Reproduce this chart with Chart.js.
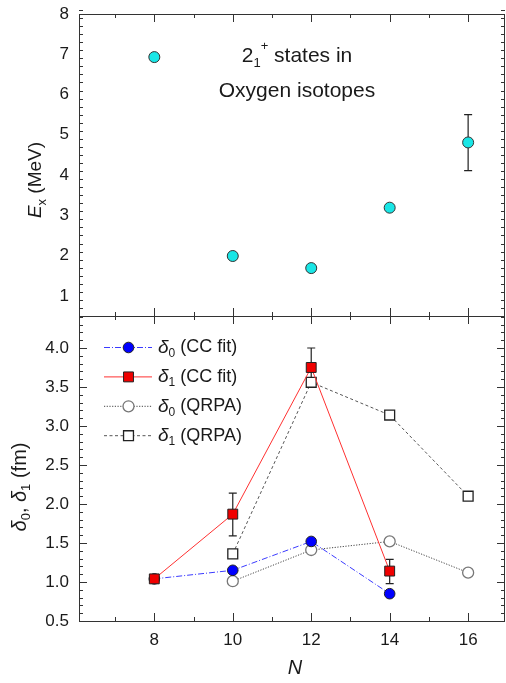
<!DOCTYPE html>
<html>
<head>
<meta charset="utf-8">
<script src="https://cdn.jsdelivr.net/npm/chart.js@4/dist/chart.umd.min.js"></script>
<style>
  html, body { margin: 0; padding: 0; background: #fff; }
  #wrap { position: relative; width: 506px; height: 683px; }
  canvas { position: absolute; left: 0; top: 0; }
</style>
</head>
<body>
<div id="wrap">
  <canvas id="bot" width="506" height="683"></canvas>
  <canvas id="top" width="506" height="683"></canvas>
</div>
<script>
// top panel: 2+ energies
const nTop = [8, 10, 12, 14, 16];
const exVals = [6.93, 1.99, 1.69, 3.19, 4.81];
const exErrLo = [null, null, null, null, 4.11];
const exErrHi = [null, null, null, null, 5.5];
const topYTicks = [1, 2, 3, 4, 5, 6, 7, 8];

// bottom panel: deformation lengths
const nCC = [8, 10, 12, 14];
const d0cc = [1.04, 1.15, 1.52, 0.85];
const d0ccLo = [null, null, 1.49, 0.82];
const d0ccHi = [null, null, 1.55, 0.88];
const d1cc = [1.04, 1.87, 3.75, 1.14];
const d1ccLo = [null, 1.59, 3.5, 0.98];
const d1ccHi = [null, 2.14, 4.0, 1.29];
const nQ = [10, 12, 14, 16];
const d0q = [1.01, 1.41, 1.52, 1.12];
const d1q = [1.36, 3.56, 3.14, 2.10];
const botYTicks = [0.5, 1.0, 1.5, 2.0, 2.5, 3.0, 3.5, 4.0];
const nTicks = [8, 10, 12, 14, 16];

const FONT = "'Liberation Sans', Arial, sans-serif";
const TXT = '#1a1a1a';

const pts = (xs, ys) => xs.map((x, i) => ({ x: x, y: ys[i] }));

function rich(ctx, parts, x, y, align) {
  let w = 0;
  parts.forEach(p => { ctx.font = (p.it ? 'italic ' : '') + p.size + 'px ' + FONT; p.w = ctx.measureText(p.t).width; w += p.w + (p.gap || 0); });
  let cx = align === 'center' ? x - w / 2 : x;
  parts.forEach(p => {
    ctx.font = (p.it ? 'italic ' : '') + p.size + 'px ' + FONT;
    ctx.fillText(p.t, cx, y + (p.dy || 0));
    cx += p.w + (p.gap || 0);
  });
}

const framePlugin = {
  id: 'frame',
  afterDatasetsDraw(chart, args, opts) {
    const { ctx, chartArea: a, scales } = chart;
    const xs = scales.x, ys = scales.y;
    ctx.save();
    ctx.strokeStyle = '#333';
    ctx.lineWidth = 1;
    ctx.strokeRect(Math.round(a.left) + 0.5, Math.round(a.top) + 0.5, Math.round(a.right - a.left) - 1, Math.round(a.bottom - a.top));
    ctx.beginPath();
    for (let n = Math.ceil(xs.min); n <= Math.floor(xs.max); n++) {
      const px = Math.round(xs.getPixelForValue(n)) + 0.5;
      const len = n % 2 === 0 ? 8 : 4;
      ctx.moveTo(px, a.top); ctx.lineTo(px, a.top + len);
      ctx.moveTo(px, a.bottom); ctx.lineTo(px, a.bottom - len);
    }
    const steps = Math.round((ys.max - ys.min) / opts.minor);
    for (let i = 0; i <= steps; i++) {
      const v = ys.min + i * opts.minor;
      const r = v / opts.major;
      const major = Math.abs(r - Math.round(r)) < 1e-6;
      const py = Math.round(ys.getPixelForValue(v)) + 0.5;
      const len = major ? 8 : 4;
      ctx.moveTo(a.left, py); ctx.lineTo(a.left + len, py);
      ctx.moveTo(a.right, py); ctx.lineTo(a.right - len, py);
    }
    ctx.stroke();
    ctx.restore();
  }
};

const errPlugin = {
  id: 'errbars',
  beforeDatasetsDraw(chart, args, opts) {
    const { ctx, scales } = chart;
    ctx.save();
    ctx.strokeStyle = '#222';
    ctx.lineWidth = 1.2;
    opts.sets.forEach(s => {
      s.x.forEach((n, i) => {
        if (s.lo[i] == null) return;
        const px = scales.x.getPixelForValue(n);
        const p1 = scales.y.getPixelForValue(s.lo[i]);
        const p2 = scales.y.getPixelForValue(s.hi[i]);
        ctx.beginPath();
        ctx.moveTo(px, p1); ctx.lineTo(px, p2);
        ctx.moveTo(px - 4, p1); ctx.lineTo(px + 4, p1);
        ctx.moveTo(px - 4, p2); ctx.lineTo(px + 4, p2);
        ctx.stroke();
      });
    });
    ctx.restore();
  }
};

const yAxis = (ticks, fmt, min, max) => ({
  min: min, max: max,
  afterBuildTicks: s => { s.ticks = ticks.map(v => ({ value: v })); },
  afterFit: s => { s.width = 79; s.paddingTop = 0; s.paddingBottom = 0; },
  grid: { display: false, drawTicks: false },
  border: { display: false },
  ticks: { color: TXT, padding: 10, font: { family: FONT, size: 17 }, callback: fmt }
});

// top chart
new Chart(document.getElementById('top'), {
  type: 'scatter',
  data: {
    datasets: [{
      data: pts(nTop, exVals),
      showLine: false,
      pointStyle: 'circle', pointRadius: 5.5,
      pointBackgroundColor: '#19e6e6', pointBorderColor: '#333', pointBorderWidth: 1
    }]
  },
  options: {
    responsive: false, animation: false, events: [],
    layout: { autoPadding: false, padding: { top: 14, bottom: 367, left: 0, right: 1 } },
    scales: {
      x: { type: 'linear', min: 6.08, max: 16.94, display: false },
      y: yAxis(topYTicks, v => String(v), 0.5, 8)
    },
    plugins: {
      legend: { display: false }, tooltip: { enabled: false },
      frame: { major: 1, minor: 0.2 },
      errbars: { sets: [{ x: nTop, lo: exErrLo, hi: exErrHi }] }
    }
  },
  plugins: [framePlugin, errPlugin, {
    id: 'topText',
    afterDraw(chart) {
      const ctx = chart.ctx;
      ctx.save();
      ctx.fillStyle = TXT;
      ctx.textBaseline = 'alphabetic';
      rich(ctx, [
        { t: '2', size: 21 },
        { t: '1', size: 13, dy: 5 },
        { t: '+', size: 13, dy: -12, gap: 0 },
        { t: ' states in', size: 21 }
      ], 297, 62, 'center');
      rich(ctx, [{ t: 'Oxygen isotopes', size: 21 }], 297, 97, 'center');
      ctx.translate(41, 180);
      ctx.rotate(-Math.PI / 2);
      rich(ctx, [
        { t: 'E', size: 19, it: true },
        { t: 'x', size: 13, dy: 5 },
        { t: ' (MeV)', size: 19 }
      ], 0, 0, 'center');
      ctx.restore();
    }
  }]
});

// bottom chart
new Chart(document.getElementById('bot'), {
  type: 'scatter',
  data: {
    datasets: [
      {
        data: pts(nCC, d1cc), showLine: true,
        borderColor: '#ff3030', borderWidth: 1,
        pointStyle: 'rect', pointRadius: 7,
        pointBackgroundColor: '#f00000', pointBorderColor: '#222', pointBorderWidth: 1
      },
      {
        data: pts(nCC, d0cc), showLine: true,
        borderColor: '#3b3bff', borderWidth: 1, borderDash: [6, 2, 1, 2],
        pointStyle: 'circle', pointRadius: 5.3,
        pointBackgroundColor: '#0000ff', pointBorderColor: '#222', pointBorderWidth: 1
      },
      {
        data: pts(nQ, d1q), showLine: true,
        borderColor: '#555', borderWidth: 1, borderDash: [3, 2.5],
        pointStyle: 'rect', pointRadius: 7,
        pointBackgroundColor: '#fff', pointBorderColor: '#222', pointBorderWidth: 1.3
      },
      {
        data: pts(nQ, d0q), showLine: true,
        borderColor: '#444', borderWidth: 1, borderDash: [1.2, 1.5],
        pointStyle: 'circle', pointRadius: 5.5,
        pointBackgroundColor: '#fff', pointBorderColor: '#777', pointBorderWidth: 1.3
      }
    ]
  },
  options: {
    responsive: false, animation: false, events: [],
    layout: { autoPadding: false, padding: { top: 316, bottom: 0, left: 0, right: 1 } },
    scales: {
      x: {
        type: 'linear', min: 6.08, max: 16.94,
        afterBuildTicks: s => { s.ticks = nTicks.map(v => ({ value: v })); },
        afterFit: s => { s.height = 62; s.paddingLeft = 0; s.paddingRight = 0; },
        grid: { display: false, drawTicks: false },
        border: { display: false },
        ticks: { color: TXT, padding: 9, font: { family: FONT, size: 17 } }
      },
      y: yAxis(botYTicks, v => v.toFixed(1), 0.5, 4.41)
    },
    plugins: {
      legend: { display: false }, tooltip: { enabled: false },
      frame: { major: 0.5, minor: 0.1 },
      errbars: { sets: [
        { x: nCC, lo: d1ccLo, hi: d1ccHi },
        { x: nCC, lo: d0ccLo, hi: d0ccHi }
      ] }
    }
  },
  plugins: [framePlugin, errPlugin, {
    id: 'botText',
    afterDraw(chart) {
      const ctx = chart.ctx;
      const ds = chart.data.datasets;
      const rows = [
        { d: ds[1], sub: '0', lab: ' (CC fit)' },
        { d: ds[0], sub: '1', lab: ' (CC fit)' },
        { d: ds[3], sub: '0', lab: ' (QRPA)' },
        { d: ds[2], sub: '1', lab: ' (QRPA)' }
      ];
      ctx.save();
      rows.forEach((r, i) => {
        const y = 347.5 + i * 29.4;
        ctx.strokeStyle = r.d.borderColor;
        ctx.lineWidth = 1;
        ctx.setLineDash(r.d.borderDash || []);
        ctx.beginPath(); ctx.moveTo(104, y); ctx.lineTo(152, y); ctx.stroke();
        ctx.setLineDash([]);
        ctx.fillStyle = r.d.pointBackgroundColor;
        ctx.strokeStyle = r.d.pointBorderColor;
        ctx.lineWidth = r.d.pointBorderWidth;
        ctx.beginPath();
        if (r.d.pointStyle === 'circle') ctx.arc(128.5, y, r.d.pointRadius, 0, Math.PI * 2);
        else { const h = r.d.pointRadius * Math.SQRT1_2; ctx.rect(128.5 - h, y - h, 2 * h, 2 * h); }
        ctx.fill(); ctx.stroke();
        ctx.fillStyle = TXT;
        ctx.textBaseline = 'middle';
        rich(ctx, [
          { t: '\u03B4', size: 19, it: true },
          { t: r.sub, size: 12, dy: 6 },
          { t: r.lab, size: 18 }
        ], 158, y, 'left');
      });
      // axis titles
      ctx.textBaseline = 'middle';
      rich(ctx, [{ t: 'N', size: 20, it: true }], 295, 668, 'center');
      ctx.translate(20, 487);
      ctx.rotate(-Math.PI / 2);
      rich(ctx, [
        { t: '\u03B4', size: 20, it: true },
        { t: '0', size: 13, dy: 6 },
        { t: ', ', size: 20 },
        { t: '\u03B4', size: 20, it: true },
        { t: '1', size: 13, dy: 6 },
        { t: ' (fm)', size: 20 }
      ], 0, 0, 'center');
      ctx.restore();
    }
  }]
});
</script>
</body>
</html>
